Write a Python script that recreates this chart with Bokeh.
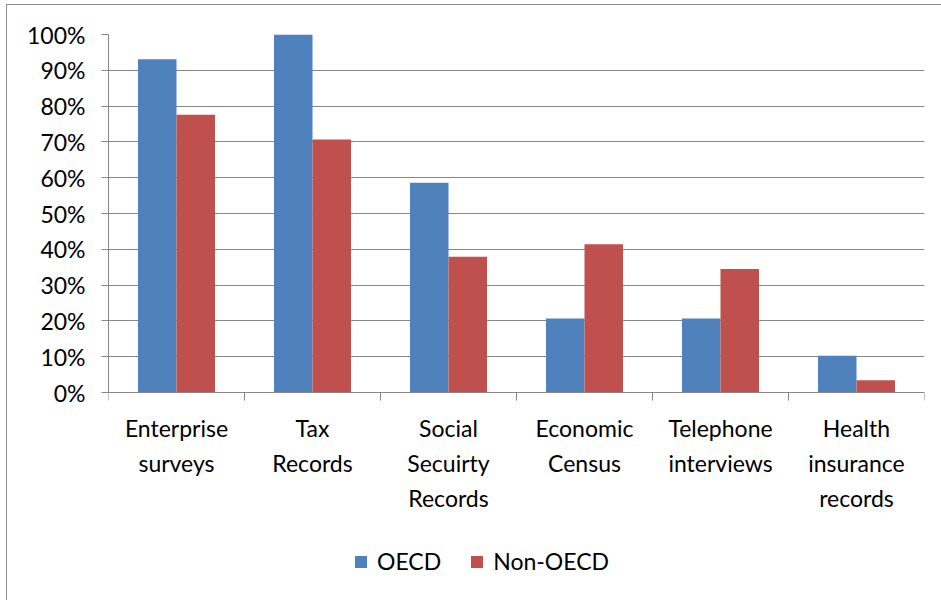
from bokeh.plotting import figure
from bokeh.models import (Range1d, FixedTicker, NumeralTickFormatter, Legend, LegendItem,
                          ColumnDataSource)
from bokeh.embed import file_html
from bokeh.resources import INLINE

categories = ["Enterprise\nsurveys", "Tax\nRecords", "Social\nSecuirty\nRecords",
              "Economic\nCensus", "Telephone\ninterviews", "Health\ninsurance\nrecords"]
oecd = [0.931, 1.0, 0.586, 0.207, 0.207, 0.103]
non_oecd = [0.776, 0.707, 0.379, 0.414, 0.345, 0.034]
series_names = ["OECD", "Non-OECD"]
colors = ["#4F81BD", "#C0504D"]
y_ticks = [i / 10 for i in range(11)]

FONT = "Lato"
FS = "23px"
n = len(categories)
bar_w = 0.283
centers = [i + 0.5 for i in range(n)]

plot_h = 358          # pixel height of the 0..100% band
frame_h = 566         # frame extends below 0% to hold labels and legend
y_bottom = -(frame_h - plot_h) / plot_h

p = figure(frame_width=816, frame_height=frame_h, output_backend="svg", toolbar_location=None,
           x_range=Range1d(0, n), y_range=Range1d(y_bottom, 1),
           min_border_left=108, min_border_right=17, min_border_top=34, min_border_bottom=0,
           outline_line_color=None, background_fill_color="white",
           border_fill_color="white", border_fill_alpha=0)
p.styles = {"background": ("linear-gradient(#8c8c8c,#8c8c8c) 6px 4px / 1px 100% no-repeat, "
                           "linear-gradient(#8c8c8c,#8c8c8c) 6px 4px / 100% 1px no-repeat, white")}

src = ColumnDataSource(dict(
    x1=[c - bar_w / 2 for c in centers], x2=[c + bar_w / 2 for c in centers],
    oecd=oecd, non=non_oecd))
r1 = p.vbar(x="x1", top="oecd", bottom=0, width=bar_w, source=src, fill_color=colors[0], line_color=None)
r2 = p.vbar(x="x2", top="non", bottom=0, width=bar_w, source=src, fill_color=colors[1], line_color=None)

p.xgrid.visible = False
p.ygrid.grid_line_color = "#868686"
p.ygrid.grid_line_width = 1
p.ygrid.ticker = FixedTicker(ticks=y_ticks)

ya = p.yaxis[0]
ya.ticker = FixedTicker(ticks=y_ticks)
ya.bounds = (0, 1)
ya.formatter = NumeralTickFormatter(format="0%")
ya.axis_line_color = "#868686"
ya.major_tick_line_color = "#868686"
ya.major_tick_out = 7
ya.major_tick_in = 0
ya.minor_tick_line_color = None
ya.major_label_standoff = 16
ya.major_label_text_font = FONT
ya.major_label_text_font_size = FS
ya.major_label_text_color = "black"

xa = p.xaxis[0]
xa.fixed_location = 0
xa.ticker = FixedTicker(ticks=centers, minor_ticks=list(range(n + 1)))
xa.major_label_overrides = {c: lab for c, lab in zip(centers, categories)}
xa.axis_line_color = "#868686"
xa.major_tick_line_color = None
xa.major_tick_out = 8
xa.major_tick_in = 0
xa.minor_tick_line_color = "#868686"
xa.minor_tick_out = 8
xa.minor_tick_in = 0
xa.major_label_standoff = 13
xa.major_label_text_font = FONT
xa.major_label_text_font_size = FS
xa.major_label_text_color = "black"
xa.major_label_text_line_height = 1.26

legend = Legend(items=[LegendItem(label=series_names[0], renderers=[r1]),
                       LegendItem(label=series_names[1], renderers=[r2])],
                orientation="horizontal", location=(245, 25),
                label_text_font=FONT, label_text_font_size=FS, label_text_color="black",
                glyph_width=15, glyph_height=15, label_height=28, spacing=28, label_standoff=9,
                border_line_color=None, background_fill_alpha=0, margin=0, padding=0)
p.add_layout(legend, "center")

open("out.html", "w").write(file_html(p, INLINE))
